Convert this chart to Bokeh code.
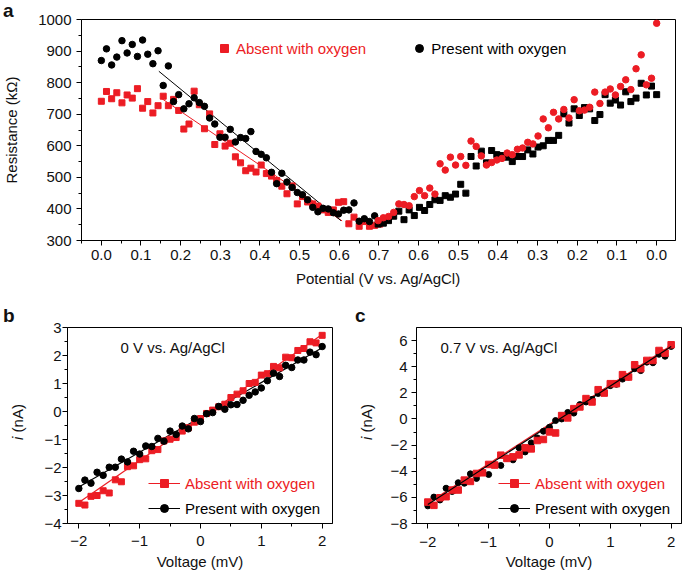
from bokeh.plotting import figure
from bokeh.layouts import column, row
from bokeh.models import (Range1d, FixedTicker, CustomJSTickFormatter, Legend,
                          LegendItem, Label, Div)
from bokeh.embed import file_html
from bokeh.resources import INLINE

FONT = "Liberation Sans"
RED = "#ec1c24"
BLACK = "#000000"

# ---------------- Panel a data ----------------
POTENTIAL = [0.000, 0.013, 0.026, 0.039, 0.052, 0.065, 0.078, 0.091, 0.104, 0.117,
             0.130, 0.143, 0.156, 0.169, 0.182, 0.195, 0.208, 0.221, 0.234, 0.247,
             0.260, 0.273, 0.286, 0.299, 0.312, 0.325, 0.338, 0.351, 0.364, 0.377,
             0.390, 0.403, 0.416, 0.429, 0.442, 0.455, 0.468, 0.481, 0.494, 0.507,
             0.520, 0.533, 0.546, 0.559, 0.572, 0.585, 0.598, 0.611, 0.624, 0.637,
             0.650, 0.663, 0.676, 0.689, 0.702]
A_ABSENT_FWD = [741, 772, 749, 768, 736, 761, 751, 781, 719, 740, 704, 727, 757, 727, 747,
                712, 653, 669, 773, 730, 654, 701, 604, 638, 599, 608, 565, 546, 521, 529,
                517, 539, 512, 504, 490, 472, 448, 473, 416, 439, 422, 416, 409, 397, 389,
                397, 421, 423, 353, 374, 345, 360, 345, 348, 352]
A_PRESENT_FWD = [870, 907, 856, 881, 933, 894, 921, 883, 935, 890, 860, 901, 791, 853, 740,
                 762, 717, 733, 752, 737, 725, 688, 669, 627, 627, 652, 612, 626, 623, 645,
                 582, 573, 562, 516, 480, 513, 485, 468, 452, 445, 429, 405, 391, 402, 400,
                 388, 384, 396, 397, 419, 361, 369, 360, 378]
A_RED_REV = [363, 372, 376, 389, 416, 414, 410, 439, 458, 442, 466, 447, 543, 523, 564,
             539, 566, 538, 615, 598, 568, 539, 547, 555, 560, 577, 572, 589, 593, 611,
             606, 631, 685, 657, 706, 685, 715, 688, 746, 711, 713, 722, 770, 734, 770,
             780, 761, 788, 809, 778, 844, 888, 793, 814, 988]
A_BLACK_REV = [352, 355, 363, 377, 393, 366, 397, 379, 405, 395, 414, 429, 427, 442, 437,
               447, 478, 450, 566, 536, 583, 546, 585, 572, 569, 564, 550, 566, 566, 587,
               574, 596, 600, 617, 617, 633, 701, 672, 717, 696, 721, 717, 680, 699, 762,
               735, 745, 729, 771, 740, 751, 798, 761, 789, 762]
A_FIT_ABSENT_V = [0.153, 0.607]
A_FIT_ABSENT_R = [749, 362]
A_FIT_PRESENT_V = [0.145, 0.604]
A_FIT_PRESENT_R = [836, 363]
A_XTICK_LABELS = ["0.0", "0.1", "0.2", "0.3", "0.4", "0.5", "0.6", "0.7",
                  "0.6", "0.5", "0.4", "0.3", "0.2", "0.1", "0.0"]

# ---------------- Panels b, c data ----------------
VOLTAGE = [-2.0, -1.9, -1.8, -1.7, -1.6, -1.5, -1.4, -1.3, -1.2, -1.1, -1.0,
           -0.9, -0.8, -0.7, -0.6, -0.5, -0.4, -0.3, -0.2, -0.1, 0.0,
           0.1, 0.2, 0.3, 0.4, 0.5, 0.6, 0.7, 0.8, 0.9, 1.0,
           1.1, 1.2, 1.3, 1.4, 1.5, 1.6, 1.7, 1.8, 1.9, 2.0]
B_ABSENT = [-3.28, -3.34, -3.03, -3.00, -2.83, -2.91, -2.44, -2.51, -1.97, -1.94, -1.72,
            -1.69, -1.40, -1.36, -1.05, -0.99, -0.93, -0.70, -0.58, -0.38, -0.25,
            -0.07, 0.05, 0.17, 0.26, 0.50, 0.62, 0.74, 1.00, 1.04, 1.30,
            1.35, 1.61, 1.56, 1.94, 1.92, 2.18, 2.25, 2.49, 2.45, 2.72]
B_PRESENT = [-2.75, -2.45, -2.56, -2.17, -2.28, -1.99, -1.99, -1.70, -1.80, -1.42, -1.52,
             -1.23, -1.25, -0.96, -1.06, -0.70, -0.82, -0.52, -0.62, -0.25, -0.36,
             -0.08, -0.04, 0.18, 0.08, 0.24, 0.25, 0.40, 0.58, 0.70, 0.84,
             1.10, 1.37, 1.25, 1.65, 1.57, 1.84, 1.84, 2.12, 2.03, 2.32]
B_FIT_V = [-2.0, 2.0]
B_FIT_ABSENT = [-3.25, 2.75]
B_FIT_PRESENT = [-2.70, 2.28]

C_ABSENT = [-6.36, -6.61, -6.03, -5.95, -5.44, -5.44, -4.68, -4.78, -4.17, -4.12, -3.48,
            -3.53, -2.77, -3.02, -2.90, -2.75, -2.21, -2.29, -1.65, -1.57, -0.99,
            -1.07, 0.26, 0.08, 0.79, 0.92, 1.56, 1.30, 2.24, 1.98, 2.70,
            2.70, 3.39, 3.21, 4.15, 3.85, 4.48, 4.48, 5.24, 5.04, 5.68]
C_PRESENT = [-6.65, -5.98, -6.20, -5.30, -5.55, -4.88, -4.92, -4.20, -4.55, -4.05, -4.25,
             -3.50, -3.56, -3.00, -3.13, -2.21, -2.52, -1.83, -1.45, -0.94, -0.63,
             -0.12, 0.00, 0.50, 0.45, 1.10, 1.30, 1.50, 1.95, 2.05, 2.55,
             2.65, 3.05, 3.20, 3.85, 3.70, 4.35, 4.30, 4.95, 4.80, 5.55]
C_FIT_V = [-2.0, 2.0]
C_FIT_ABSENT = [-6.45, 5.62]
C_FIT_PRESENT = [-6.55, 5.55]

LEGEND_LABELS = ["Absent with oxygen", "Present with oxygen"]
PANEL_LETTERS = ["a", "b", "c"]


def style(p):
    p.xgrid.visible = False
    p.ygrid.visible = False
    p.outline_line_color = BLACK
    p.outline_line_width = 1
    p.background_fill_color = "white"
    p.border_fill_color = "white"
    for ax in (p.xaxis[0], p.yaxis[0]):
        ax.axis_line_color = BLACK
        ax.axis_line_width = 1
        ax.major_tick_in = 0
        ax.major_tick_out = 5
        ax.minor_tick_in = 0
        ax.minor_tick_out = 3
        ax.major_tick_line_color = BLACK
        ax.minor_tick_line_color = BLACK
        ax.major_label_text_font = FONT
        ax.major_label_text_font_size = "15px"
        ax.major_label_text_color = "#111111"
        ax.axis_label_text_font = FONT
        ax.axis_label_text_font_size = "15px"
        ax.axis_label_text_font_style = "normal"
        ax.axis_label_text_color = "#111111"


def text_div(html, left, top, w, h, size, weight="normal", rotate=False, align="left"):
    st = {"position": "absolute", "left": f"{left}px", "top": f"{top}px",
          "width": f"{w}px", "height": f"{h}px", "font-family": FONT,
          "font-size": f"{size}px", "font-weight": weight, "line-height": f"{h}px",
          "color": "#111111", "z-index": "10", "margin": "0px", "padding": "0px",
          "text-align": align, "white-space": "nowrap", "overflow": "visible"}
    if rotate:
        st["transform"] = "rotate(-90deg)"
    return Div(text=html, width=w, height=h, styles=st)


def label(p, x, y, text, **kw):
    opts = dict(text_font=FONT, text_font_size="15px", text_color="#111111")
    opts.update(kw)
    p.add_layout(Label(x=x, y=y, x_units="screen", y_units="screen", text=text, **opts))


def legend(p, renderers, text, color, x, y, gw):
    lg = Legend(items=[LegendItem(label=text, renderers=renderers)],
                location=(x, y), orientation="vertical", padding=0, margin=0,
                spacing=0, glyph_width=gw, glyph_height=20, label_height=20,
                label_standoff=5 if gw > 20 else 2, label_text_font=FONT,
                label_text_font_size="15px", label_text_color=color,
                background_fill_alpha=0, border_line_alpha=0)
    p.add_layout(lg, "center")


minus_fmt = CustomJSTickFormatter(
    code="return (tick < 0 ? '\u2212' : '') + Math.abs(tick).toString();")

# ---------------- Panel a ----------------
pa = figure(width=685, height=300, x_range=Range1d(-0.5, 14.475), y_range=Range1d(300, 1000),
            output_backend="svg", toolbar_location=None,
            min_border_left=77, min_border_right=10, min_border_top=19, min_border_bottom=60)
style(pa)
pa.xaxis.ticker = FixedTicker(ticks=list(range(15)), minor_ticks=[i + 0.5 for i in range(-1, 15)])
pa.xaxis.formatter = CustomJSTickFormatter(args=dict(labels=A_XTICK_LABELS),
                                           code="return labels[Math.round(tick)];")
pa.yaxis.ticker = FixedTicker(ticks=list(range(300, 1001, 100)), minor_ticks=list(range(350, 1000, 100)))
pa.xaxis.major_label_standoff = 4
pa.yaxis.major_label_standoff = 5
pa.xaxis.axis_label = "Potential (V vs. Ag/AgCl)"
pa.yaxis.axis_label = "Resistance (k\u03a9)"
pa.xaxis.axis_label_standoff = 7
pa.yaxis.axis_label_standoff = 15

fwd_pos = [v * 10 for v in POTENTIAL]
rev_pos = [(1.4 - v) * 10 for v in POTENTIAL[::-1]]

pa.line([v * 10 for v in A_FIT_ABSENT_V], A_FIT_ABSENT_R, line_color=RED, line_width=1)
pa.line([v * 10 for v in A_FIT_PRESENT_V], A_FIT_PRESENT_R, line_color=BLACK, line_width=1)
ra_red = pa.scatter(fwd_pos[:len(A_ABSENT_FWD)], A_ABSENT_FWD, marker="square", size=6,
                    fill_color=RED, line_color=RED)
ra_blk = pa.scatter(fwd_pos[:len(A_PRESENT_FWD)], A_PRESENT_FWD, marker="circle", size=6.5,
                    fill_color=BLACK, line_color=BLACK)
pa.scatter(rev_pos, A_BLACK_REV, marker="square", size=6, fill_color=BLACK, line_color=BLACK)
pa.scatter(rev_pos, A_RED_REV, marker="circle", size=6.5, fill_color=RED, line_color=RED)

legend(pa, [ra_red], LEGEND_LABELS[0], RED, 133, 181.7, 20)
legend(pa, [ra_blk], LEGEND_LABELS[1], BLACK, 328.3, 181.7, 20)

# ---------------- Panel b ----------------
pb = figure(width=340, height=274, x_range=Range1d(-2.186, 2.17), y_range=Range1d(-4, 3),
            output_backend="svg", toolbar_location=None,
            min_border_left=67, min_border_right=8, min_border_top=27, min_border_bottom=51)
style(pb)
pb.xaxis.ticker = FixedTicker(ticks=[-2, -1, 0, 1, 2], minor_ticks=[-1.5, -0.5, 0.5, 1.5])
pb.yaxis.ticker = FixedTicker(ticks=list(range(-4, 4)), minor_ticks=[i + 0.5 for i in range(-4, 3)])
pb.xaxis.formatter = minus_fmt
pb.yaxis.formatter = minus_fmt
pb.xaxis.major_label_standoff = 7
pb.yaxis.major_label_standoff = 1
pb.xaxis.axis_label = "Voltage (mV)"
pb.xaxis.axis_label_standoff = 4

rb_rl = pb.line(B_FIT_V, B_FIT_ABSENT, line_color=RED, line_width=1.2)
rb_bl = pb.line(B_FIT_V, B_FIT_PRESENT, line_color=BLACK, line_width=1.2)
rb_r = pb.scatter(VOLTAGE, B_ABSENT, marker="square", size=6, fill_color=RED, line_color=RED)
rb_b = pb.scatter(VOLTAGE, B_PRESENT, marker="circle", size=6.5, fill_color=BLACK, line_color=BLACK)
legend(pb, [rb_rl, rb_r], LEGEND_LABELS[0], RED, 81, 29.7, 32)
legend(pb, [rb_bl, rb_b], LEGEND_LABELS[1], BLACK, 81, 4.7, 32)
label(pb, 53, 175.7, "0 V vs. Ag/AgCl", text_baseline="middle")

# ---------------- Panel c ----------------
pc = figure(width=345, height=274, x_range=Range1d(-2.186, 2.17), y_range=Range1d(-8, 7),
            output_backend="svg", toolbar_location=None,
            min_border_left=76, min_border_right=4, min_border_top=27, min_border_bottom=51)
style(pc)
pc.xaxis.ticker = FixedTicker(ticks=[-2, -1, 0, 1, 2], minor_ticks=[-1.5, -0.5, 0.5, 1.5])
pc.yaxis.ticker = FixedTicker(ticks=list(range(-8, 7, 2)), minor_ticks=list(range(-7, 7, 2)))
pc.xaxis.formatter = minus_fmt
pc.yaxis.formatter = minus_fmt
pc.xaxis.major_label_standoff = 8
pc.yaxis.major_label_standoff = 4
pc.xaxis.axis_label = "Voltage (mV)"
pc.xaxis.axis_label_standoff = 3

rc_rl = pc.line(C_FIT_V, C_FIT_ABSENT, line_color=RED, line_width=1.2)
rc_r = pc.scatter(VOLTAGE, C_ABSENT, marker="square", size=6.5, fill_color=RED, line_color=RED)
rc_bl = pc.line(C_FIT_V, C_FIT_PRESENT, line_color=BLACK, line_width=1.2)
rc_b = pc.scatter(VOLTAGE, C_PRESENT, marker="circle", size=6, fill_color=BLACK, line_color=BLACK)
pc.renderers.remove(rc_r)
pc.renderers.append(rc_r)
pc.renderers.remove(rc_bl)
pc.renderers.append(rc_bl)
legend(pc, [rc_rl, rc_r], LEGEND_LABELS[0], RED, 82, 29.7, 32)
legend(pc, [rc_bl, rc_b], LEGEND_LABELS[1], BLACK, 82, 4.7, 32)
label(pc, 24, 175.7, "0.7 V vs. Ag/AgCl", text_baseline="middle")

# panel letters and y-axis titles of b and c (italic i)
divs = [
    text_div(PANEL_LETTERS[0], 3, 1, 16, 20, 19, weight="bold"),
    text_div(PANEL_LETTERS[1], 3, 306, 16, 20, 19, weight="bold"),
    text_div(PANEL_LETTERS[2], 355, 306, 16, 20, 19, weight="bold"),
    text_div("<i>i</i> (nA)", -7.5, 413, 50, 18, 15, rotate=True, align="center"),
    text_div("<i>i</i> (nA)", 341.5, 413, 50, 18, 15, rotate=True, align="center"),
]

layout = column(pa, row(pb, pc), *divs)
open("out.html", "w", encoding="utf-8").write(file_html(layout, INLINE))
